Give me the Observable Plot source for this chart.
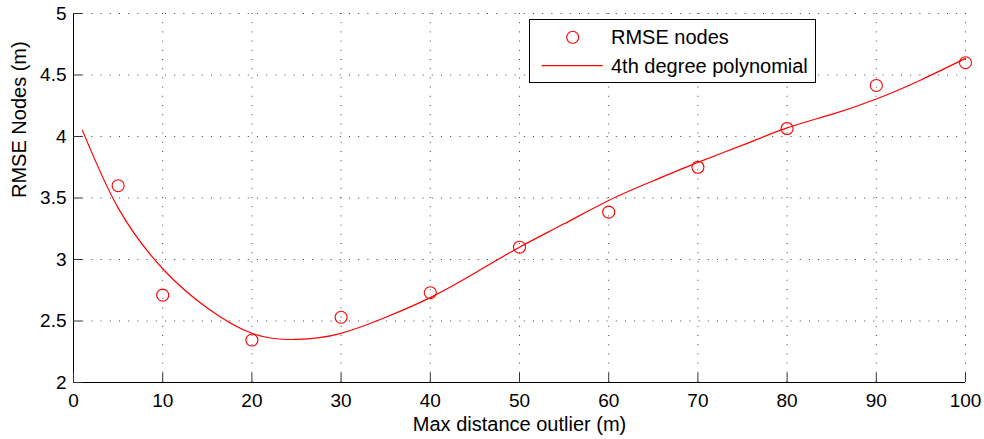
<!DOCTYPE html>
<html>
<head>
<meta charset="utf-8">
<script src="https://cdn.jsdelivr.net/npm/d3@7"></script>
<script src="https://cdn.jsdelivr.net/npm/@observablehq/plot@0.6"></script>
<style>
  html, body { margin: 0; padding: 0; background: #fff; }
  #wrap { position: relative; width: 984px; height: 439px; font-family: "Liberation Sans", Arial, Helvetica, sans-serif; }
  #legend { position: absolute; left: 529px; top: 19px; width: 287px; height: 64px; box-sizing: border-box; border: 1px solid #000; background: #fff; }
  #legend svg { display: block; }
</style>
</head>
<body>
<div id="wrap"></div>
<script>
// Measured RMSE of node positions per maximum outlier distance
const maxDistance = [5, 10, 20, 30, 40, 50, 60, 70, 80, 90, 100];
const rmseNodes = [3.60, 2.71, 2.345, 2.53, 2.73, 3.10, 3.385, 3.75, 4.065, 4.415, 4.60];

// Fitted 4th degree polynomial, sampled along the distance range
const fitDistance = [1, 5, 10, 15, 20, 25, 30, 35, 40, 45, 50, 55, 60, 65, 70, 75, 80, 85, 90, 95, 100];
const fitRmse = [4.05, 3.42, 2.925, 2.605, 2.40, 2.35, 2.40, 2.53, 2.69, 2.89, 3.10, 3.29, 3.48, 3.64, 3.79, 3.93, 4.07, 4.18, 4.305, 4.46, 4.635];

// Axis ticks
const xTicks = [0, 10, 20, 30, 40, 50, 60, 70, 80, 90, 100];
const yTicks = [2, 2.5, 3, 3.5, 4, 4.5, 5];

const xLabel = "Max distance outlier (m)";
const yLabel = "RMSE Nodes (m)";
const legendLabels = ["RMSE nodes", "4th degree polynomial"];

const points = maxDistance.map((x, i) => ({x, y: rmseNodes[i]}));
const fit = fitDistance.map((x, i) => ({x, y: fitRmse[i]}));

const width = 984, height = 439;
const margin = {top: 13, right: 19, bottom: 57, left: 73};
const innerW = width - margin.left - margin.right;
const innerH = height - margin.top - margin.bottom;
const tickLen = 9;
const font = "'Liberation Sans', Arial, Helvetica, sans-serif";

const gridStyle = {stroke: "#000", strokeOpacity: 0.75, strokeWidth: 1, strokeDasharray: "1,8.2"};

const chart = Plot.plot({
  width, height,
  marginTop: margin.top, marginRight: margin.right, marginBottom: margin.bottom, marginLeft: margin.left,
  style: {fontFamily: font, fontSize: "19px", background: "#fff", color: "#000", overflow: "visible"},
  x: {domain: [0, 100], axis: null},
  y: {domain: [2, 5], axis: null},
  marks: [
    Plot.gridX(xTicks, gridStyle),
    Plot.gridY(yTicks, gridStyle),
    Plot.ruleX([0], {stroke: "#000", strokeWidth: 1}),
    Plot.ruleY([2], {stroke: "#000", strokeWidth: 1}),
    // inward-pointing tick marks
    Plot.tickX(xTicks, {x: d => d, insetTop: innerH - tickLen, stroke: "#333"}),
    Plot.tickY(yTicks, {y: d => d, insetRight: innerW - tickLen, stroke: "#333"}),
    Plot.axisX(xTicks, {tickSize: 0, tickPadding: 11, tickFormat: d => String(d), label: null, fontSize: 19}),
    Plot.axisY(yTicks, {tickSize: 0, tickPadding: 7, tickFormat: d => String(d), label: null, fontSize: 19}),
    Plot.line(fit, {x: "x", y: "y", curve: "natural", stroke: "#ff0000", strokeWidth: 1.2}),
    Plot.dot(points, {x: "x", y: "y", r: 6, stroke: "#ff0000", strokeWidth: 1.1, fill: "none"}),
    Plot.text([xLabel], {text: d => d, frameAnchor: "bottom", dy: 41.6, fontSize: 20, lineAnchor: "middle"}),
    Plot.text([yLabel], {text: d => d, frameAnchor: "left", dx: -54.4, rotate: -90, fontSize: 20, lineAnchor: "middle"})
  ]
});

const wrap = document.getElementById("wrap");
wrap.appendChild(chart);

// Legend box drawn over the upper right of the axes
const legend = d3.select(wrap).append("div").attr("id", "legend");
const lsvg = legend.append("svg").attr("width", 285).attr("height", 62)
  .style("font-family", font).style("font-size", "20px");
lsvg.append("circle").attr("cx", 42.7).attr("cy", 17.3).attr("r", 6)
  .attr("fill", "none").attr("stroke", "#ff0000").attr("stroke-width", 1.1);
lsvg.append("line").attr("x1", 11.7).attr("x2", 72.7).attr("y1", 45.7).attr("y2", 45.7)
  .attr("stroke", "#ff0000").attr("stroke-width", 1.2);
lsvg.selectAll("text.lab").data(legendLabels).join("text").attr("class", "lab")
  .attr("x", 81).attr("y", (d, i) => i === 0 ? 24.3 : 53.3)
  .attr("fill", "#000").text(d => d);
</script>
</body>
</html>
